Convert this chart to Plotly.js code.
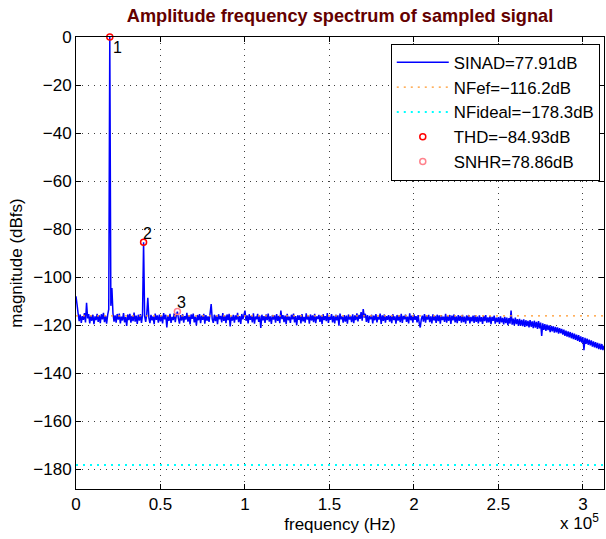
<!DOCTYPE html>
<html>
<head>
<meta charset="utf-8">
<script src="https://cdn.plot.ly/plotly-3.0.1.min.js"></script>
<style>html,body{margin:0;padding:0;background:#fff;}#chart{width:606px;height:539px;}</style>
</head>
<body>
<div id="chart"></div>
<script>
// Spectrum bins are 625 Hz apart, from 0 Hz to 312.5 kHz (Nyquist)
const binHz = 625;
const magnitudeDb = [
-108.0,-111.5,-115.2,-118.4,-115.6,-119.1,-116.3,-117.8,-115.0,-118.9,-110.7,-117.2,-115.4,-119.3,-116.1,-118.2,-115.7,-119.6,-116.4,-117.9,
-115.3,-118.7,-116.0,-119.2,-115.5,-117.6,-114.9,-118.8,-116.2,-119.4,-115.8,-113.5,0,-112.0,-104.6,-115.1,-118.6,-116.0,-119.0,-115.4,
-117.7,-115.2,-119.3,-116.5,-118.1,-115.0,-118.9,-116.7,-120.4,-115.6,-117.9,-115.3,-119.0,-116.2,-118.4,-114.8,-118.6,-116.1,-119.5,-115.7,
-118.2,-115.4,-119.1,-115.9,-85.5,-116.3,-118.7,-115.5,-108.6,-117.0,-119.2,-115.8,-118.0,-116.4,-119.6,-115.2,-117.8,-116.0,-119.0,-115.6,
-118.5,-116.1,-119.3,-115.0,-117.6,-115.7,-121.0,-116.2,-118.3,-115.3,-119.1,-116.6,-117.9,-115.1,-118.8,-116.0,-114.4,-117.3,-119.4,-115.9,
-118.1,-115.5,-119.0,-116.3,-117.7,-114.9,-118.6,-116.0,-119.7,-115.6,-117.4,-115.2,-118.9,-116.5,-120.2,-115.8,-118.0,-115.4,-119.2,-116.1,
-117.8,-115.3,-119.4,-115.9,-118.2,-116.4,-118.7,-115.1,-111.3,-117.5,-119.1,-115.7,-118.4,-116.0,-119.6,-115.5,-117.6,-116.2,-118.9,-115.0,
-118.3,-116.1,-119.2,-115.6,-117.9,-115.3,-120.6,-116.4,-118.1,-115.8,-119.0,-116.0,-117.7,-114.9,-118.8,-116.3,-119.5,-115.4,-117.6,-115.9,
-114.0,-118.2,-116.0,-119.3,-115.5,-117.8,-116.2,-118.9,-115.1,-119.4,-116.5,-117.6,-115.3,-118.7,-116.1,-121.2,-115.7,-118.0,-116.3,-119.1,
-115.6,-117.9,-115.2,-118.6,-116.4,-119.5,-115.8,-117.7,-116.0,-119.0,-115.4,-118.3,-116.2,-119.2,-114.0,-117.5,-115.9,-118.8,-116.1,-119.6,
-115.3,-118.0,-116.5,-119.1,-115.7,-117.6,-115.2,-118.9,-116.3,-120.1,-115.9,-117.8,-116.0,-119.3,-115.4,-118.5,-116.6,-119.0,-115.1,-117.7,
-116.2,-119.4,-115.6,-118.1,-116.0,-118.8,-115.3,-119.2,-116.4,-117.5,-115.8,-118.7,-116.1,-119.6,-115.5,-117.9,-116.3,-118.4,-115.0,-119.1,
-116.5,-117.8,-115.4,-118.9,-116.2,-119.3,-115.7,-118.0,-116.0,-120.3,-115.2,-117.6,-116.4,-119.0,-115.9,-118.6,-116.1,-119.4,-115.6,-117.7,
-116.3,-118.8,-115.5,-119.2,-116.0,-117.9,-115.1,-118.5,-115.8,-117.4,-114.6,-118.2,-113.3,-116.9,-115.3,-118.7,-115.9,-119.1,-116.2,-117.6,
-115.7,-119.3,-116.1,-118.0,-115.4,-118.9,-116.5,-117.7,-115.2,-119.5,-116.0,-118.3,-115.6,-119.0,-116.3,-117.8,-115.9,-118.6,-116.2,-119.2,
-115.5,-117.9,-116.4,-119.4,-115.8,-118.1,-116.0,-118.8,-115.3,-119.1,-116.2,-117.6,-115.7,-118.7,-116.5,-119.3,-115.1,-118.0,-116.1,-119.0,
-115.6,-117.8,-116.3,-118.9,-115.9,-119.2,-121.0,-117.5,-116.1,-118.6,-115.4,-119.0,-116.0,-117.7,-115.8,-118.8,-116.4,-119.3,-115.5,-118.1,
-116.2,-119.1,-115.7,-118.4,-116.0,-119.4,-115.9,-117.9,-116.5,-118.7,-115.3,-119.0,-116.3,-118.2,-115.8,-119.5,-116.1,-118.0,-115.6,-118.9,
-116.4,-119.2,-115.9,-118.3,-116.2,-119.0,-115.7,-118.8,-116.5,-119.4,-116.0,-118.1,-115.8,-119.3,-116.6,-118.5,-116.1,-119.1,-115.9,-118.7,
-116.5,-119.3,-116.0,-118.6,-116.7,-119.5,-116.2,-118.4,-115.9,-119.0,-116.8,-118.9,-116.3,-119.6,-116.6,-118.2,-116.1,-119.4,-116.9,-118.8,
-116.7,-119.5,-116.4,-118.9,-117.0,-119.7,-116.6,-119.2,-116.9,-120.0,-117.1,-119.4,-114.0,-119.8,-117.3,-120.1,-116.9,-119.6,-117.5,-120.3,
-117.4,-120.2,-117.8,-120.5,-117.6,-120.8,-118.0,-120.4,-118.3,-121.0,-117.9,-120.7,-118.5,-121.3,-118.2,-121.1,-118.7,-121.6,-118.4,-121.4,
-119.0,-124.5,-119.3,-122.0,-119.6,-122.4,-119.8,-122.1,-120.1,-122.9,-120.3,-122.6,-120.5,-123.2,-120.8,-123.0,-121.0,-123.6,-121.3,-123.4,
-121.6,-124.0,-121.9,-124.5,-122.3,-124.8,-122.6,-125.1,-122.9,-125.5,-123.3,-125.9,-123.6,-126.2,-124.0,-126.6,-124.2,-127.0,-124.7,-127.3,
-125.0,-130.5,-125.3,-127.8,-125.7,-128.2,-126.1,-128.5,-126.4,-129.0,-126.8,-129.3,-127.1,-129.6,-127.4,-130.0,-127.7,-130.2,-127.9,-130.4,
-128.6
];
const freqHz = magnitudeDb.map((_, i) => i * binHz);

const nfEf = -116.2;
const nfIdeal = -178.3;
const fMax = 312500;

const thdFreq = [20000, 40000];
const thdMag = [0, -85.5];
const snhrFreq = [60000];
const snhrMag = [-114.4];
const markLabels = ["1", "2", "3"];

const legendNames = ["SINAD=77.91dB", "NFef=\u2212116.2dB", "NFideal=\u2212178.3dB", "THD=\u221284.93dB", "SNHR=78.86dB"];

const xTicks = [0, 50000, 100000, 150000, 200000, 250000, 300000];
const xTickText = ["0", "0.5", "1", "1.5", "2", "2.5", "3"];
const yTicks = [0, -20, -40, -60, -80, -100, -120, -140, -160, -180];

const FONT = "Liberation Sans, Arial, Helvetica, sans-serif";

const traces = [
  {x: freqHz, y: magnitudeDb, type: "scatter", mode: "lines", name: legendNames[0],
   line: {color: "rgb(0,0,255)", width: 1.5, simplify: false}},
  {x: [0, fMax], y: [nfEf, nfEf], type: "scatter", mode: "lines", name: legendNames[1],
   line: {color: "rgb(255,150,40)", width: 1.2, dash: "2px,5px"}},
  {x: [0, fMax], y: [nfIdeal, nfIdeal], type: "scatter", mode: "lines", name: legendNames[2],
   line: {color: "rgb(0,255,255)", width: 2, dash: "2px,5px"}},
  {x: thdFreq, y: thdMag, type: "scatter", mode: "markers", name: legendNames[3], cliponaxis: false,
   marker: {symbol: "circle-open", size: 6, color: "rgb(255,0,0)", line: {width: 1.5, color: "rgb(255,0,0)"}}},
  {x: snhrFreq, y: snhrMag, type: "scatter", mode: "markers", name: legendNames[4], cliponaxis: false,
   marker: {symbol: "circle-open", size: 6, color: "rgb(255,130,140)", line: {width: 1.5, color: "rgb(255,130,140)"}}}
];

const markX = thdFreq.concat(snhrFreq);
const markY = thdMag.concat(snhrMag);
const markShift = [[8, -10], [4, 9], [4, 9]];
const annotations = markLabels.map((t, i) => ({
  x: markX[i], y: markY[i], xref: "x", yref: "y", text: t, showarrow: false,
  xshift: markShift[i][0], yshift: markShift[i][1],
  font: {family: FONT, size: 16, color: "#000"}
}));
annotations.push({
  xref: "paper", yref: "paper", x: 0.995, y: -0.072, xanchor: "right", yanchor: "middle",
  text: "x 10<sup>5</sup>", showarrow: false, font: {family: FONT, size: 17, color: "#000"}
});

const gridStyle = {gridcolor: "rgba(0,0,0,0.75)", gridwidth: 1, griddash: "1px,5px"};

const layout = {
  width: 606, height: 539,
  margin: {l: 76, r: 2, t: 37, b: 50, pad: 0},
  paper_bgcolor: "#fff", plot_bgcolor: "#fff",
  font: {family: FONT, size: 17, color: "#000"},
  title: {text: "<b>Amplitude frequency spectrum of sampled signal</b>",
          font: {family: FONT, size: 18.2, color: "rgb(100,0,0)"},
          x: 0.5, xanchor: "center", y: 0.971, yanchor: "middle", xref: "paper", yref: "container"},
  xaxis: Object.assign({
    range: [0, fMax], tickvals: xTicks, ticktext: xTickText,
    ticks: "inside", ticklen: 5, tickcolor: "#000", showline: true, linecolor: "#000", linewidth: 1,
    mirror: "ticks", showgrid: true, zeroline: false,
    tickfont: {family: FONT, size: 17},
    title: {text: "frequency (Hz)", font: {family: FONT, size: 17}, standoff: 4}
  }, gridStyle),
  yaxis: Object.assign({
    range: [-188.3, 0], tickvals: yTicks,
    ticks: "inside", ticklen: 5, tickcolor: "#000", showline: true, linecolor: "#000", linewidth: 1,
    mirror: "ticks", showgrid: true, zeroline: false,
    tickfont: {family: FONT, size: 17},
    title: {text: "magnitude (dBfs)", font: {family: FONT, size: 17}, standoff: 6}
  }, gridStyle),
  legend: {x: 0.992, xanchor: "right", y: 0.985, yanchor: "top",
           bgcolor: "#fff", bordercolor: "#000", borderwidth: 1, itemwidth: 52,
           font: {family: FONT, size: 16.8}, tracegroupgap: 0},
  showlegend: true,
  annotations: annotations
};

Plotly.newPlot("chart", traces, layout, {displayModeBar: false, staticPlot: true});
</script>
</body>
</html>
